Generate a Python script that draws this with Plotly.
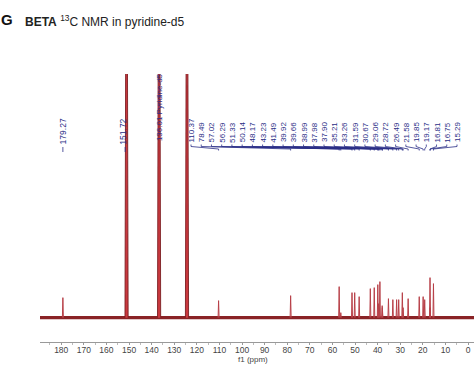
import numpy as np
import plotly.graph_objects as go

# ---------------- data ----------------
# small (labelled) carbon peaks: position (ppm) and relative height
peak_ppm = [179.27, 110.37, 78.49, 57.02, 56.29, 51.33, 50.14, 48.17, 43.23, 41.49,
            39.92, 39.66, 38.99, 37.98, 37.90, 35.21, 33.26, 31.59, 30.67, 29.06,
            28.72, 26.49, 21.58, 19.85, 19.17, 16.81, 16.75, 15.29]
peak_height = [20, 17, 22, 31, 5, 25, 25, 21, 29, 30,
               33, 14, 36, 12, 10, 19, 18, 18, 18, 25,
               10, 19, 21, 21, 18, 40, 10, 34]

# solvent (pyridine-d5) peaks as they sit on the drawn axis, off scale
solvent_ppm = [151.1, 136.7, 124.35]
solvent_height = [600, 600, 600]

# peak labels
iso_labels = ["179.27", "151.72"]
iso_label_ppm = [179.27, 151.72]
solvent_label = "136.01 Pyridine-d5"
solvent_label_ppm = 136.7
cluster_labels = ["110.37", "78.49", "57.02", "56.29", "51.33", "50.14", "48.17", "43.23",
                  "41.49", "39.92", "39.66", "38.99", "37.98", "37.90", "35.21", "33.26",
                  "31.59", "30.67", "29.06", "28.72", "26.49", "21.58", "19.85", "19.17",
                  "16.81", "16.75", "15.29"]
cluster_peak_ppm = [110.37, 78.49, 57.02, 56.29, 51.33, 50.14, 48.17, 43.23,
                    41.49, 39.92, 39.66, 38.99, 37.98, 37.90, 35.21, 33.26,
                    31.59, 30.67, 29.06, 28.72, 26.49, 21.58, 19.85, 19.17,
                    16.81, 16.75, 15.29]

tick_vals = [180, 170, 160, 150, 140, 130, 120, 110, 100, 90, 80, 70, 60, 50, 40, 30, 20, 10, 0]
tick_text = [str(v) for v in tick_vals]

# ---------------- layout constants ----------------
W, H = 474, 365
ML, MR, MT, MB = 40, 0, 74, 23
X_RANGE = [189.4, -2.65]
Y_RANGE = [-24.3, 243.4]
PLOT_H = H - MT - MB
PLOT_W = W - ML - MR

SPEC_BASE = "#8a2326"
LBL = "#2a2d86"


def px2paper(px):
    return (px - ML) / PLOT_W


def py2paper(py):
    return (H - MB - py) / PLOT_H


def px2ppm(px):
    return X_RANGE[0] + (px - ML) / PLOT_W * (X_RANGE[1] - X_RANGE[0])


fig = go.Figure()

# baseline (noise band)
fig.add_trace(go.Scatter(x=[X_RANGE[0], X_RANGE[1]], y=[0, 0], mode="lines",
                         line=dict(color=SPEC_BASE, width=3.2), hoverinfo="skip"))

# small peaks as narrow sticks
sx, sy = [], []
for p, h in zip(peak_ppm, peak_height):
    w = 0.22
    sx += [p + w, p, p - w, None]
    sy += [0, h, 0, None]
fig.add_trace(go.Scatter(x=sx, y=sy, mode="lines", line=dict(color="#b84048", width=1),
                         hoverinfo="skip"))

# solvent peaks (broad, off scale)
for p, h in zip(solvent_ppm, solvent_height):
    w = 0.7
    fig.add_trace(go.Scatter(x=[p + w, p, p - w], y=[0, h, 0], mode="lines",
                             fill="toself", fillcolor="#c9383e",
                             line=dict(color="#7c1f22", width=0.9), hoverinfo="skip"))

# label connectors (y2 is a pixel-like overlay axis)
lbl_x = list(np.linspace(px2ppm(191), px2ppm(457), len(cluster_labels)))
cx, cy = [], []
for lx, px in zip(lbl_x, cluster_peak_ppm):
    cx += [lx, lx, px, px, None]
    cy += [144.5, 146.5, 149.0, 150.5, None]
iso_shift = [0, -3]
for px in iso_label_ppm:
    cx += [px, px, None]
    cy += [147, 152, None]
fig.add_trace(go.Scatter(x=cx, y=cy, yaxis="y2", mode="lines",
                         line=dict(color=LBL, width=0.8), hoverinfo="skip"))

annotations = []
for t, px, sh in zip(iso_labels, iso_label_ppm, iso_shift):
    annotations.append(dict(x=px, y=py2paper(145.5), xref="x", yref="paper", text=t,
                            textangle=-90, showarrow=False, xanchor="center", yanchor="bottom",
                            xshift=sh,
                            font=dict(family="Liberation Sans", size=8.5, color=LBL),
                            borderpad=0))
annotations.append(dict(x=solvent_label_ppm, y=py2paper(142), xref="x", yref="paper",
                        text=solvent_label, textangle=-90, showarrow=False,
                        xanchor="center", yanchor="bottom",
                        font=dict(family="Liberation Sans Narrow, Liberation Sans", size=8,
                                  color=LBL),
                        borderpad=0))
for t, lx in zip(cluster_labels, lbl_x):
    annotations.append(dict(x=lx, y=py2paper(143.5), xref="x", yref="paper", text=t,
                            textangle=-90, showarrow=False, xanchor="center", yanchor="bottom",
                            font=dict(family="Liberation Sans", size=8, color=LBL),
                            borderpad=0))

# titles
annotations.append(dict(x=px2paper(0), y=py2paper(29), xref="paper", yref="paper",
                        text="<b>G</b>", showarrow=False, xanchor="left", yanchor="bottom",
                        font=dict(family="Liberation Sans", size=15, color="#111"),
                        borderpad=0))
annotations.append(dict(x=px2paper(24), y=py2paper(30), xref="paper", yref="paper",
                        text="<b>BETA</b> <sup>13</sup>C NMR in pyridine-d5",
                        showarrow=False, xanchor="left", yanchor="bottom",
                        font=dict(family="Liberation Sans", size=12, color="#222"),
                        borderpad=0))
annotations.append(dict(x=px2paper(253), y=py2paper(359.5), xref="paper", yref="paper",
                        text="f1 (ppm)", showarrow=False, xanchor="center", yanchor="middle",
                        font=dict(family="Liberation Sans", size=8, color="#444"),
                        borderpad=0))

fig.update_layout(
    width=W, height=H, margin=dict(l=ML, r=MR, t=MT, b=MB, autoexpand=False),
    paper_bgcolor="white", plot_bgcolor="white", showlegend=False,
    xaxis=dict(range=X_RANGE, tickvals=tick_vals, ticktext=tick_text, showgrid=False,
               zeroline=False, showline=True, linecolor="#999", linewidth=1,
               ticks="outside", ticklen=2, tickcolor="#999", automargin=False,
               ticklabelstandoff=-2,
               minor=dict(dtick=5, ticks="outside", ticklen=1.5, tickcolor="#bbb"),
               tickfont=dict(family="Liberation Sans", size=8.5, color="#444")),
    yaxis=dict(range=Y_RANGE, visible=False, fixedrange=True),
    yaxis2=dict(range=[H - MB, MT], overlaying="y", visible=False, fixedrange=True),
    annotations=annotations,
)

fig.write_html("out.html", config={"displayModeBar": False},
               post_script="document.body.style.margin='0';document.body.style.padding='0';")
